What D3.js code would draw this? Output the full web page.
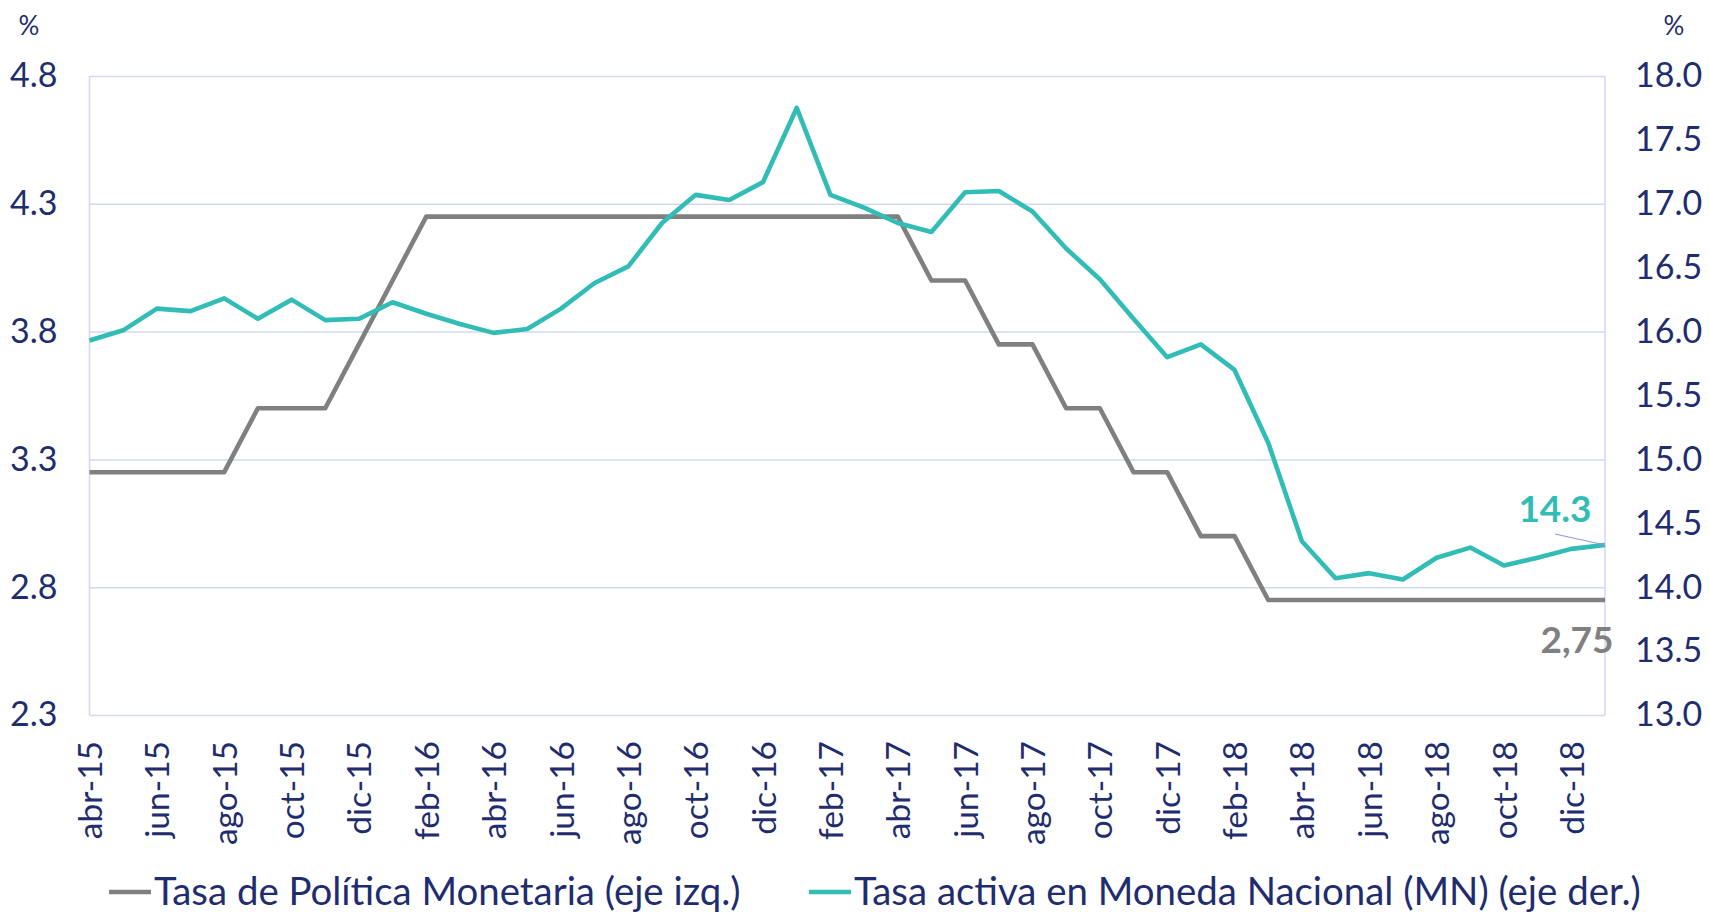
<!DOCTYPE html>
<html>
<head>
<meta charset="utf-8">
<script src="https://cdn.jsdelivr.net/npm/d3@7"></script>
<style>
  html, body { margin: 0; padding: 0; background: #ffffff; }
  svg { display: block; font-family: Lato, "Open Sans", sans-serif; }
</style>
</head>
<body>
<div id="chart"></div>
<script>
// Meses (abr-15 a ene-19)
const months = [
  "abr-15","may-15","jun-15","jul-15","ago-15","sep-15","oct-15","nov-15","dic-15",
  "ene-16","feb-16","mar-16","abr-16","may-16","jun-16","jul-16","ago-16","sep-16","oct-16","nov-16","dic-16",
  "ene-17","feb-17","mar-17","abr-17","may-17","jun-17","jul-17","ago-17","sep-17","oct-17","nov-17","dic-17",
  "ene-18","feb-18","mar-18","abr-18","may-18","jun-18","jul-18","ago-18","sep-18","oct-18","nov-18","dic-18",
  "ene-19"
];

// Tasa de Politica Monetaria (eje izq.)
const tpm = [
  3.25, 3.25, 3.25, 3.25, 3.25, 3.5, 3.5, 3.5, 3.75,
  4.0, 4.25, 4.25, 4.25, 4.25, 4.25, 4.25, 4.25, 4.25, 4.25, 4.25, 4.25,
  4.25, 4.25, 4.25, 4.25, 4.0, 4.0, 3.75, 3.75, 3.5, 3.5, 3.25, 3.25,
  3.0, 3.0, 2.75, 2.75, 2.75, 2.75, 2.75, 2.75, 2.75, 2.75, 2.75, 2.75,
  2.75
];

// Tasa activa en MN (eje der.)
const tasaMN = [
  15.93, 16.01, 16.18, 16.16, 16.26, 16.10, 16.25, 16.09, 16.10,
  16.23, 16.14, 16.06, 15.99, 16.02, 16.18, 16.38, 16.51, 16.85, 17.07, 17.03, 17.17,
  17.75, 17.07, 16.97, 16.85, 16.78, 17.09, 17.10, 16.94, 16.65, 16.41, 16.10, 15.80,
  15.90, 15.70, 15.13, 14.36, 14.07, 14.11, 14.06, 14.23, 14.31, 14.17, 14.23, 14.30,
  14.33
];

const leftTicks = [2.3, 2.8, 3.3, 3.8, 4.3, 4.8];
const rightTicks = [13.0, 13.5, 14.0, 14.5, 15.0, 15.5, 16.0, 16.5, 17.0, 17.5, 18.0];
const legendNames = ["Tasa de Política Monetaria (eje izq.)", "Tasa activa en Moneda Nacional (MN) (eje der.)"];

const W = 1709, H = 912;
const plot = { left: 89.5, right: 1605, top: 76, bottom: 715 };
const NAVY = "#1f2d6e", GRAY = "#808080", TEAL = "#31bdb5", GRID = "#d3d8f3";

const svg = d3.select("#chart").append("svg").attr("width", W).attr("height", H);

const x = d3.scalePoint().domain(months).range([plot.left, plot.right]);
const yL = d3.scaleLinear().domain([2.3, 4.8]).range([plot.bottom, plot.top]);
const yR = d3.scaleLinear().domain([13, 18]).range([plot.bottom, plot.top]);

// grilla horizontal
svg.append("g")
  .attr("transform", `translate(${plot.left},0)`)
  .call(d3.axisLeft(yL).tickValues(leftTicks).tickSize(-(plot.right - plot.left)).tickFormat(""))
  .call(g => g.select(".domain").remove())
  .selectAll("line").attr("stroke", GRID).attr("stroke-width", 1.5);

// bordes verticales del area
svg.append("line").attr("x1", plot.left).attr("x2", plot.left).attr("y1", plot.top).attr("y2", plot.bottom)
  .attr("stroke", GRID).attr("stroke-width", 1.5);
svg.append("line").attr("x1", plot.right).attr("x2", plot.right).attr("y1", plot.top).attr("y2", plot.bottom)
  .attr("stroke", GRID).attr("stroke-width", 1.5);

// eje izquierdo
const axL = svg.append("g")
  .attr("transform", `translate(${plot.left},0)`)
  .call(d3.axisLeft(yL).tickValues(leftTicks).tickSize(0).tickPadding(32).tickFormat(d3.format(".1f")));
axL.select(".domain").remove();
axL.selectAll("text").attr("fill", NAVY).style("font-size", "34px").style("font-family", "Lato");

// eje derecho
const axR = svg.append("g")
  .attr("transform", `translate(${plot.right},0)`)
  .call(d3.axisRight(yR).tickValues(rightTicks).tickSize(0).tickPadding(30).tickFormat(d3.format(".1f")));
axR.select(".domain").remove();
axR.selectAll("text").attr("fill", NAVY).style("font-size", "34px").style("font-family", "Lato");

// unidades
svg.append("text").attr("x", 29).attr("y", 35).attr("text-anchor", "middle")
  .attr("fill", NAVY).style("font-size", "26px").text("%");
svg.append("text").attr("x", 1674).attr("y", 35).attr("text-anchor", "middle")
  .attr("fill", NAVY).style("font-size", "26px").text("%");

// eje x (cada dos meses)
const axX = svg.append("g")
  .attr("transform", `translate(0,${plot.bottom})`)
  .call(d3.axisBottom(x).tickValues(months.filter((d, i) => i % 2 === 0)).tickSize(0).tickPadding(0));
axX.select(".domain").remove();
axX.selectAll("text")
  .attr("transform", "rotate(-90)")
  .attr("x", -26).attr("y", 0).attr("dy", "0.36em")
  .attr("text-anchor", "end")
  .attr("fill", NAVY).style("font-size", "33.5px").style("font-family", "Lato");

// lineas
const lineL = d3.line().x((d, i) => x(months[i])).y(d => yL(d));
const lineR = d3.line().x((d, i) => x(months[i])).y(d => yR(d));

svg.append("path").datum(tpm).attr("d", lineL)
  .attr("fill", "none").attr("stroke", GRAY).attr("stroke-width", 4.6).attr("stroke-linejoin", "round");
svg.append("path").datum(tasaMN).attr("d", lineR)
  .attr("fill", "none").attr("stroke", TEAL).attr("stroke-width", 4.6).attr("stroke-linejoin", "round");

// etiquetas del ultimo dato
const lastIdx = months.length - 1;
const lx = x(months[lastIdx]);
svg.append("line")
  .attr("x1", lx - 50).attr("y1", yR(tasaMN[lastIdx]) - 11)
  .attr("x2", lx).attr("y2", yR(tasaMN[lastIdx]))
  .attr("stroke", "#8f9be2").attr("stroke-width", 1.2);
svg.append("text").attr("x", lx - 50).attr("y", yR(tasaMN[lastIdx]) - 23)
  .attr("text-anchor", "middle").attr("fill", TEAL)
  .style("font-size", "37px").style("font-weight", "bold")
  .text(d3.format(".1f")(tasaMN[lastIdx]));
svg.append("text").attr("x", lx - 28).attr("y", yL(tpm[lastIdx]) + 53)
  .attr("text-anchor", "middle").attr("fill", GRAY)
  .style("font-size", "37px").style("font-weight", "bold")
  .text(String(tpm[lastIdx]).replace(".", ","));

// leyenda
const legend = svg.append("g").attr("transform", "translate(0,892)");
[[109, GRAY], [809, TEAL]].forEach(([lx0, col], k) => {
  legend.append("line").attr("x1", lx0).attr("x2", lx0 + 42).attr("y1", 0).attr("y2", 0)
    .attr("stroke", col).attr("stroke-width", 4.5);
  legend.append("text").attr("x", lx0 + 45).attr("y", 13)
    .attr("fill", NAVY).style("font-size", "38.4px").text(legendNames[k]);
});
</script>
</body>
</html>
